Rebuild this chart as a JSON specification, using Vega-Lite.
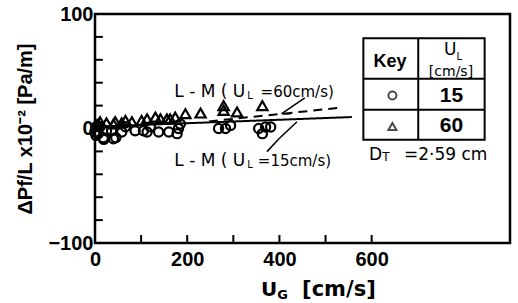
{
  "$schema": "https://vega.github.io/schema/vega-lite/v6.json",
  "width": 415,
  "height": 229,
  "autosize": "none",
  "padding": {"left": 95, "top": 14, "right": 8, "bottom": 60},
  "background": "white",
  "config": {"view": {"stroke": "black", "strokeWidth": 2.5}, "font": "Liberation Sans"},
  "data": {"values": [{"note": "annotation"}]},
  "datasets": {
    "points": [
      {"x": 0, "y": -3, "UL": "15"}, {"x": 2, "y": -6, "UL": "15"}, {"x": 4, "y": 2, "UL": "15"},
      {"x": 7, "y": -4.5, "UL": "15"}, {"x": 11, "y": 1.5, "UL": "15"}, {"x": 18, "y": -8, "UL": "15"},
      {"x": 19, "y": -9.5, "UL": "15"}, {"x": 25, "y": -2, "UL": "15"}, {"x": 36, "y": -2, "UL": "15"},
      {"x": 40, "y": -9, "UL": "15"}, {"x": 45, "y": -8, "UL": "15"}, {"x": 58, "y": -3, "UL": "15"},
      {"x": 66, "y": 1.5, "UL": "15"}, {"x": 87, "y": -2, "UL": "15"}, {"x": 105, "y": -2, "UL": "15"},
      {"x": 113, "y": -3, "UL": "15"}, {"x": 120, "y": 1.5, "UL": "15"}, {"x": 138, "y": -3, "UL": "15"},
      {"x": 160, "y": -3, "UL": "15"}, {"x": 178, "y": -4.5, "UL": "15"}, {"x": 181, "y": 0, "UL": "15"},
      {"x": 185, "y": 4, "UL": "15"}, {"x": 268, "y": 0, "UL": "15"}, {"x": 283, "y": 0, "UL": "15"},
      {"x": 294, "y": 2.7, "UL": "15"}, {"x": 355, "y": 0, "UL": "15"}, {"x": 363, "y": -4.5, "UL": "15"},
      {"x": 370, "y": 1.3, "UL": "15"}, {"x": 381, "y": 1.3, "UL": "15"},
      {"x": 3, "y": 3, "UL": "60"}, {"x": 7, "y": 4, "UL": "60"}, {"x": 11, "y": 6, "UL": "60"},
      {"x": 25, "y": 5, "UL": "60"}, {"x": 40, "y": 4, "UL": "60"}, {"x": 44, "y": 6, "UL": "60"},
      {"x": 58, "y": 5, "UL": "60"}, {"x": 66, "y": 7, "UL": "60"}, {"x": 80, "y": 6, "UL": "60"},
      {"x": 101, "y": 7, "UL": "60"}, {"x": 113, "y": 8.5, "UL": "60"}, {"x": 131, "y": 10, "UL": "60"},
      {"x": 142, "y": 8.5, "UL": "60"}, {"x": 156, "y": 8.5, "UL": "60"}, {"x": 163, "y": 8.5, "UL": "60"},
      {"x": 174, "y": 10, "UL": "60"}, {"x": 196, "y": 13, "UL": "60"}, {"x": 229, "y": 13.5, "UL": "60"},
      {"x": 279, "y": 15.8, "UL": "60"}, {"x": 279, "y": 20, "UL": "60"}, {"x": 308, "y": 14.4, "UL": "60"},
      {"x": 363, "y": 20, "UL": "60"}
    ],
    "lines": [
      {"x": 0, "y": 1.6, "curve": "15"}, {"x": 557, "y": 10, "curve": "15"},
      {"x": 247, "y": 6.2, "curve": "60"}, {"x": 526, "y": 17.9, "curve": "60"}
    ],
    "xticks": [{"v": 100}, {"v": 200}, {"v": 300}, {"v": 400}, {"v": 500}, {"v": 600}],
    "yticks": [{"v": -80}, {"v": -60}, {"v": -40}, {"v": -20}, {"v": 0}, {"v": 20}, {"v": 40}, {"v": 60}, {"v": 80}]
  },
  "layer": [
    {
      "data": {"name": "lines"},
      "mark": {"type": "line", "color": "black", "strokeWidth": 2},
      "encoding": {
        "x": {"field": "x", "type": "quantitative", "scale": {"domain": [0, 900], "nice": false, "zero": false},
          "axis": {"values": [0, 200, 400, 600],
            "domain": false, "grid": false, "ticks": false,
            "labelFont": "Liberation Sans", "labelFontWeight": "bold", "labelFontSize": 20, "labelColor": "black",
            "labelPadding": 6, "labelFlush": false, "labelOverlap": false, "title": null}},
        "y": {"field": "y", "type": "quantitative", "scale": {"domain": [-100, 100], "nice": false, "zero": false},
          "axis": {"values": [-100, 0, 100],
            "domain": false, "grid": false, "ticks": false,
            "labelFont": "Liberation Sans", "labelFontWeight": "bold", "labelFontSize": 20, "labelColor": "black",
            "labelPadding": 2, "labelFlush": false, "labelOverlap": false,
            "title": "ΔPf/L x10⁻² [Pa/m]", "titleFont": "Liberation Sans", "titleFontWeight": "bold",
            "titleFontSize": 20, "titleColor": "black", "titlePadding": 12}},
        "strokeDash": {"field": "curve", "type": "nominal", "scale": {"domain": ["15", "60"], "range": [[1, 0], [9, 6]]}, "legend": null}
      }
    },
    {
      "data": {"name": "xticks"},
      "mark": {"type": "rule", "color": "black", "strokeWidth": 2},
      "encoding": {"x": {"field": "v", "type": "quantitative"}, "y": {"datum": -100}, "y2": {"datum": -93}}
    },
    {
      "data": {"name": "yticks"},
      "mark": {"type": "rule", "color": "black", "strokeWidth": 2},
      "encoding": {"y": {"field": "v", "type": "quantitative"}, "x": {"datum": 0}, "x2": {"datum": 17}}
    },
    {
      "data": {"name": "points"},
      "mark": {"type": "point", "filled": false, "strokeWidth": 2.2, "color": "black", "opacity": 1},
      "encoding": {
        "x": {"field": "x", "type": "quantitative"},
        "y": {"field": "y", "type": "quantitative"},
        "shape": {"field": "UL", "type": "nominal", "scale": {"domain": ["15", "60"], "range": ["circle", "triangle-up"]}, "legend": null},
        "size": {"field": "UL", "type": "nominal", "scale": {"domain": ["15", "60"], "range": [85, 105]}, "legend": null}
      }
    },
    {"mark": {"type": "rule", "color": "black", "strokeWidth": 1.5},
     "encoding": {"x": {"datum": 405}, "y": {"datum": 12.9}, "x2": {"datum": 455}, "y2": {"datum": 26.8}}},
    {"mark": {"type": "rule", "color": "black", "strokeWidth": 1.5},
     "encoding": {"x": {"datum": 405}, "y": {"datum": 12.9}, "x2": {"datum": 424}, "y2": {"datum": 12.9}}},
    {"mark": {"type": "rule", "color": "black", "strokeWidth": 1.5},
     "encoding": {"x": {"datum": 438}, "y": {"datum": 5.9}, "x2": {"datum": 399}, "y2": {"datum": -8.9}}},
    {"mark": {"type": "rule", "color": "black", "strokeWidth": 1.5},
     "encoding": {"x": {"datum": 399}, "y": {"datum": -8.9}, "x2": {"datum": 373}, "y2": {"datum": -20.2}}},
    {"mark": {"type": "rect", "fill": "white", "fillOpacity": 0, "stroke": "black", "strokeWidth": 2},
     "encoding": {"x": {"datum": 582}, "x2": {"datum": 845}, "y": {"datum": 78.9}, "y2": {"datum": -9.8}}},
    {"mark": {"type": "rule", "color": "black", "strokeWidth": 2},
     "encoding": {"x": {"datum": 582}, "x2": {"datum": 845}, "y": {"datum": 43.4}}},
    {"mark": {"type": "rule", "color": "black", "strokeWidth": 2},
     "encoding": {"x": {"datum": 582}, "x2": {"datum": 845}, "y": {"datum": 16.4}}},
    {"mark": {"type": "rule", "color": "black", "strokeWidth": 2},
     "encoding": {"x": {"datum": 701}, "y": {"datum": 78.9}, "y2": {"datum": -9.8}}},
    {"mark": {"type": "point", "shape": "circle", "filled": false, "strokeWidth": 2, "color": "black", "size": 65},
     "encoding": {"x": {"datum": 645}, "y": {"datum": 28.8}}},
    {"mark": {"type": "point", "shape": "triangle-up", "filled": false, "strokeWidth": 2, "color": "black", "size": 65},
     "encoding": {"x": {"datum": 645}, "y": {"datum": 1.8}}},
    {"mark": {"type": "text", "text": "Key", "font": "Liberation Sans", "fontWeight": "bold", "fontSize": 18, "align": "center", "baseline": "middle", "color": "black"},
     "encoding": {"x": {"datum": 640}, "y": {"datum": 58}}},
    {"mark": {"type": "text", "text": "U", "font": "DejaVu Sans", "fontSize": 17, "align": "left", "baseline": "middle", "color": "black"},
     "encoding": {"x": {"datum": 757}, "y": {"datum": 68.2}}},
    {"mark": {"type": "text", "text": "L", "font": "DejaVu Sans", "fontSize": 10, "align": "left", "baseline": "middle", "color": "black"},
     "encoding": {"x": {"datum": 784}, "y": {"datum": 62.5}}},
    {"mark": {"type": "text", "text": "[cm/s]", "font": "DejaVu Sans", "fontSize": 14, "align": "center", "baseline": "middle", "color": "black"},
     "encoding": {"x": {"datum": 772}, "y": {"datum": 49.6}}},
    {"mark": {"type": "text", "text": "15", "font": "Liberation Sans", "fontWeight": "bold", "fontSize": 21, "align": "center", "baseline": "middle", "color": "black"},
     "encoding": {"x": {"datum": 773}, "y": {"datum": 28.8}}},
    {"mark": {"type": "text", "text": "60", "font": "Liberation Sans", "fontWeight": "bold", "fontSize": 21, "align": "center", "baseline": "middle", "color": "black"},
     "encoding": {"x": {"datum": 773}, "y": {"datum": 1.8}}},
    {"mark": {"type": "text", "text": "D", "font": "DejaVu Sans", "fontSize": 17, "align": "left", "baseline": "middle", "color": "black"},
     "encoding": {"x": {"datum": 594}, "y": {"datum": -22.8}}},
    {"mark": {"type": "text", "text": "T", "font": "DejaVu Sans", "fontSize": 12, "align": "left", "baseline": "middle", "color": "black"},
     "encoding": {"x": {"datum": 623}, "y": {"datum": -25}}},
    {"mark": {"type": "text", "text": "=2·59 cm", "font": "DejaVu Sans", "fontSize": 17, "align": "right", "baseline": "middle", "color": "black"},
     "encoding": {"x": {"datum": 851}, "y": {"datum": -22.8}}},
    {"mark": {"type": "text", "text": "L - M ( U", "font": "DejaVu Sans", "fontSize": 17, "align": "left", "baseline": "middle", "color": "black"},
     "encoding": {"x": {"datum": 172}, "y": {"datum": 32}}},
    {"mark": {"type": "text", "text": "L", "font": "DejaVu Sans", "fontSize": 10, "align": "left", "baseline": "middle", "color": "black"},
     "encoding": {"x": {"datum": 330}, "y": {"datum": 28}}},
    {"mark": {"type": "text", "text": "=60cm/s)", "font": "DejaVu Sans", "fontSize": 15, "align": "right", "baseline": "middle", "color": "black"},
     "encoding": {"x": {"datum": 518}, "y": {"datum": 32}}},
    {"mark": {"type": "text", "text": "L - M ( U", "font": "DejaVu Sans", "fontSize": 17, "align": "left", "baseline": "middle", "color": "black"},
     "encoding": {"x": {"datum": 172}, "y": {"datum": -28}}},
    {"mark": {"type": "text", "text": "L", "font": "DejaVu Sans", "fontSize": 10, "align": "left", "baseline": "middle", "color": "black"},
     "encoding": {"x": {"datum": 330}, "y": {"datum": -32}}},
    {"mark": {"type": "text", "text": "=15cm/s)", "font": "DejaVu Sans", "fontSize": 15, "align": "right", "baseline": "middle", "color": "black"},
     "encoding": {"x": {"datum": 512}, "y": {"datum": -28}}},
    {"mark": {"type": "text", "text": "U", "font": "DejaVu Sans", "fontWeight": "bold", "fontSize": 20, "align": "left", "baseline": "middle", "color": "black"},
     "encoding": {"x": {"datum": 360}, "y": {"datum": -141}}},
    {"mark": {"type": "text", "text": "G", "font": "DejaVu Sans", "fontWeight": "bold", "fontSize": 13, "align": "left", "baseline": "middle", "color": "black"},
     "encoding": {"x": {"datum": 395}, "y": {"datum": -145}}},
    {"mark": {"type": "text", "text": "[cm/s]", "font": "DejaVu Sans", "fontWeight": "bold", "fontSize": 21, "align": "left", "baseline": "middle", "color": "black"},
     "encoding": {"x": {"datum": 449}, "y": {"datum": -141}}}
  ]
}
